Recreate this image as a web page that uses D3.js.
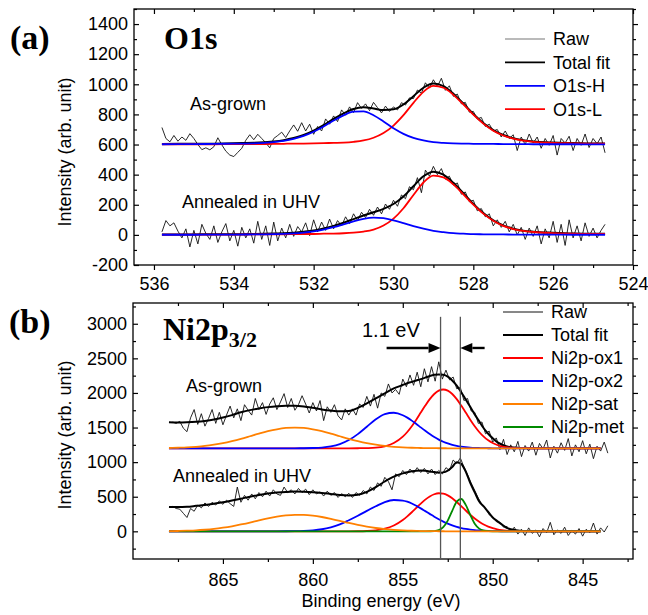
<!DOCTYPE html>
<html lang="en">
<head>
<meta charset="UTF-8">
<title>XPS O1s / Ni2p3/2</title>
<script src="https://d3js.org/d3.v7.min.js"></script>
<style>
  body { margin: 0; background: #fff; }
  svg { font-family: "Liberation Sans", Arial, sans-serif; }
  .tick text { font-size: 18px; fill: #000; }
  .tick line { stroke: #000; stroke-width: 1.2; }
  .big { font-family: "Liberation Serif", "Times New Roman", serif; font-weight: bold; }
</style>
</head>
<body>
<svg id="chart"></svg>
<script>
// ---------- panel (a) : O1s ----------
const o1sRawE = d3.range(112).map(i => +(535.8 - 0.1 * i).toFixed(1));
const o1sRawAsGrown = [713, 640, 618, 660, 622, 650, 628, 672, 640, 600,
  566, 578, 565, 585, 645, 598, 556, 530, 520, 548,
  575, 628, 665, 632, 668, 640, 612, 578, 640, 660,
  682, 646, 690, 730, 688, 745, 690, 735, 668, 720,
  690, 770, 735, 790, 752, 830, 795, 850, 812, 878,
  840, 870, 825, 880, 845, 810, 855, 820, 850, 830,
  878, 862, 910, 905, 962, 940, 1010, 975, 1030, 985,
  1040, 960, 990, 920, 935, 870, 880, 815, 820, 770,
  780, 720, 735, 690, 700, 650, 690, 640, 665, 560,
  650, 600, 670, 610, 650, 575, 640, 595, 660, 530,
  640, 610, 655, 560, 640, 595, 670, 580, 640, 605,
  650, 545];
const o1sRawAnnealed = [20, 95, 60, 80, 25, -20, 40, -80, 30, -60,
  70, 10, -30, 60, -50, 20, 75, -40, 30, -75,
  50, -20, 40, -55, 90, -30, 60, -70, 85, -40,
  45, -20, 70, -10, 55, 20, 80, -5, 100, 20,
  85, 30, 105, 40, 95, 60, 120, 75, 140, 95,
  150, 115, 170, 130, 185, 140, 205, 170, 230, 190,
  265, 240, 320, 300, 380, 280, 430, 390, 455, 400,
  440, 370, 390, 330, 345, 270, 285, 220, 230, 160,
  175, 120, 140, 60, 100, 50, 90, 20, 70, 0,
  50, -30, 45, -10, 60, -60, 40, -20, 90, -50,
  70, -70, 100, -20, 60, -40, 80, -10, 45, -20,
  30, 70];

const o1sFitE = [535.8, 535, 534.5, 534, 533.5, 533, 532.75, 532.5, 532.25, 532, 531.75, 531.5,
  531.25, 531, 530.75, 530.5, 530.25, 530, 529.75, 529.5, 529.25, 529, 528.75, 528.5,
  528.25, 528, 527.75, 527.5, 527.25, 527, 526.75, 526.5, 526, 525.5, 525, 524.7];
const o1sTotalAsGrown = [604, 605, 606, 609, 611, 620, 629, 643, 663, 692, 729, 770,
  807, 836, 847, 839, 829, 834, 866, 921, 977, 1005, 988, 938,
  872, 803, 743, 696, 663, 642, 629, 620, 613, 610, 607, 607];
const o1sHAsGrown = [602, 603, 604, 606, 608, 616, 624, 637, 657, 685, 720, 759,
  794, 818, 820, 794, 753, 708, 671, 644, 627, 616, 611, 608,
  606, 605, 604, 604, 603, 603, 603, 602, 602, 602, 601, 601];
const o1sLAsGrown = [602, 602, 602, 603, 603, 604, 605, 606, 606, 607, 609, 611,
  613, 618, 627, 645, 676, 726, 795, 877, 950, 989, 977, 930,
  866, 798, 739, 692, 660, 639, 626, 618, 611, 608, 606, 606];
const o1sTotalAnnealed = [2, 3, 4, 4, 6, 9, 11, 15, 21, 29, 43, 60,
  81, 105, 129, 150, 173, 205, 255, 323, 389, 420, 400, 346,
  277, 206, 145, 97, 63, 41, 28, 21, 14, 9, 7, 7];
const o1sHAnnealed = [1, 1, 2, 2, 3, 5, 7, 10, 15, 23, 35, 51,
  70, 90, 107, 115, 111, 97, 78, 58, 41, 27, 18, 11,
  8, 5, 4, 3, 3, 2, 2, 2, 2, 1, 1, 1];
const o1sLAnnealed = [1, 2, 2, 2, 3, 4, 4, 5, 6, 6, 8, 9,
  11, 15, 22, 35, 62, 108, 177, 265, 348, 393, 382, 335,
  269, 201, 141, 94, 60, 39, 26, 19, 12, 8, 6, 6];

const o1sXMajor = [536, 534, 532, 530, 528, 526, 524];
const o1sXMinor = [535, 533, 531, 529, 527, 525];
const o1sYMajor = [-200, 0, 200, 400, 600, 800, 1000, 1200, 1400];
const o1sYMinor = [-100, 100, 300, 500, 700, 900, 1100, 1300, 1500];
const o1sLegend = ["Raw", "Total fit", "O1s-H", "O1s-L"];

// ---------- panel (b) : Ni2p3/2 ----------
const niRawE = d3.range(122).map(i => +(867.8 - 0.2 * i).toFixed(1));
const niRawAsGrown = [1580, 1560, 1590, 1490, 1440, 1640, 1760, 1545, 1700, 1520,
  1630, 1760, 1560, 1720, 1540, 1680, 1810, 1640, 1770, 1600,
  1830, 1750, 1680, 1920, 1760, 1860, 1690, 1840, 1930, 1760,
  1870, 1990, 1790, 1920, 1750, 1830, 1960, 1840, 1710, 1860,
  1740, 1890, 1600, 1800, 1720, 1830, 1670, 1610, 1770, 1680,
  1770, 1680, 1840, 1790, 1950, 1810, 1980, 1780, 2000, 1950,
  2130, 2000, 2050, 1980, 2200, 2090, 2260, 2110, 2300, 2090,
  2350, 2160, 2380, 2170, 2450, 2200, 2330, 2190, 2230, 2060,
  2080, 1890, 1920, 1740, 1720, 1560, 1580, 1410, 1450, 1290,
  1350, 1180, 1330, 1110, 1250, 1150, 1300, 1080, 1240, 1160,
  1290, 1100, 1270, 1190, 1320, 1060, 1230, 1130, 1280, 1170,
  1340, 1090, 1250, 1150, 1310, 1120, 1260, 1050, 1230, 1160,
  1290, 1130];
const niRawAnnealed = [360, 330, 320, 260, 200, 330, 290, 380, 340, 410,
  360, 420, 380, 440, 390, 450, 400, 360, 640, 420,
  520, 450, 540, 470, 560, 500, 580, 510, 600, 540,
  520, 640, 560, 600, 540, 620, 560, 610, 530, 600,
  540, 570, 510, 580, 520, 560, 490, 545, 500, 550,
  490, 560, 520, 590, 540, 640, 590, 700, 650, 780,
  720, 600, 830, 790, 880, 820, 900, 840, 920, 850,
  910, 830, 900, 820, 880, 830, 920, 880, 1030, 980,
  1060, 930, 820, 700, 590, 480, 390, 330, 240, 210,
  140, 130, 60, 70, -10, 60, -40, 30, -60, 50,
  -30, 20, -80, 40, -20, 130, -50, 20, -30, 60,
  -60, 10, -40, 40, -70, 30, -20, 120, -40, 50,
  -10, 80];

const niFitE = [868, 867.5, 867, 866.5, 866, 865.5, 865, 864.5, 864, 863.5, 863, 862.5, 862,
  861.5, 861, 860.5, 860, 859.5, 859, 858.5, 858, 857.5, 857, 856.5, 856, 855.5, 855,
  854.75, 854.5, 854.25, 854, 853.75, 853.5, 853.25, 853, 852.75, 852.5, 852.25, 852,
  851.75, 851.5, 851.25, 851, 850.75, 850.5, 850.25, 850, 849.75, 849.5, 849.25, 849,
  848.5, 848, 847.5, 847, 846, 845, 844];
const niTotalAsGrown = [1575, 1572, 1575, 1582, 1595, 1615, 1645, 1680, 1720, 1752, 1776, 1795, 1808,
  1815, 1815, 1805, 1785, 1762, 1745, 1735, 1738, 1785, 1850, 1920, 1995, 2065, 2115,
  2140, 2160, 2180, 2200, 2222, 2245, 2262, 2268, 2262, 2235, 2180, 2105,
  2010, 1905, 1800, 1690, 1590, 1490, 1410, 1345, 1290, 1255, 1230, 1215,
  1205, 1201, 1200, 1200, 1200, 1200, 1200];
const niOx1AsGrown = [1200, 1200, 1200, 1200, 1200, 1200, 1200, 1200, 1200, 1200, 1200, 1200, 1200,
  1200, 1200, 1200, 1200, 1200, 1200, 1200, 1200, 1201, 1203, 1209, 1229, 1276, 1368,
  1436, 1519, 1614, 1716, 1817, 1910, 1985, 2033, 2050, 2033, 1985, 1910,
  1817, 1716, 1614, 1519, 1436, 1368, 1315, 1276, 1248, 1229, 1217, 1209,
  1203, 1201, 1200, 1200, 1200, 1200, 1200];
const niOx2AsGrown = [1200, 1200, 1200, 1200, 1200, 1200, 1200, 1200, 1200, 1200, 1200, 1200, 1200,
  1200, 1200, 1201, 1204, 1211, 1227, 1260, 1319, 1405, 1512, 1619, 1694, 1714, 1678,
  1643, 1600, 1552, 1502, 1453, 1406, 1363, 1326, 1295, 1270, 1250, 1235,
  1224, 1216, 1210, 1206, 1204, 1202, 1201, 1200, 1200, 1200, 1200, 1200,
  1200, 1200, 1200, 1200, 1200, 1200, 1200];
const niSatAsGrown = [1204, 1208, 1213, 1222, 1234, 1252, 1275, 1304, 1337, 1374, 1412, 1447, 1475,
  1494, 1500, 1494, 1475, 1447, 1412, 1374, 1337, 1304, 1275, 1252, 1234, 1222, 1213,
  1210, 1208, 1206, 1204, 1203, 1202, 1202, 1201, 1201, 1200, 1200, 1200,
  1200, 1200, 1200, 1200, 1200, 1200, 1200, 1200, 1200, 1200, 1200, 1200,
  1200, 1200, 1200, 1200, 1200, 1200, 1200];
const niTotalAnnealed = [352, 350, 355, 368, 382, 400, 420, 445, 472, 500, 525, 545, 560,
  570, 574, 572, 566, 555, 540, 525, 518, 528, 570, 640, 720, 790, 838,
  855, 868, 876, 878, 874, 866, 856, 848, 852, 878, 930, 1000,
  975, 865, 700, 565, 430, 360, 280, 200, 148, 100, 55, 30,
  10, 5, 2, 1, 0, 0, 0];
const niOx1Annealed = [0, 0, 0, 0, 0, 0, 0, 0, 0, 0, 0, 0, 0,
  0, 0, 0, 0, 0, 0, 0, 0, 1, 5, 15, 38, 85, 165,
  217, 276, 339, 401, 458, 504, 536, 550, 544, 519, 478, 424,
  364, 301, 240, 185, 137, 98, 68, 45, 29, 18, 11, 6,
  2, 0, 0, 0, 0, 0, 0];
const niOx2Annealed = [0, 0, 0, 0, 0, 0, 0, 0, 0, 0, 0, 0, 0,
  1, 3, 7, 15, 30, 58, 100, 160, 225, 295, 362, 423, 453, 445,
  428, 402, 369, 332, 292, 252, 212, 175, 141, 112, 86, 65,
  48, 35, 25, 17, 12, 8, 5, 3, 2, 1, 0, 0,
  0, 0, 0, 0, 0, 0, 0];
const niSatAnnealed = [3, 5, 9, 14, 23, 35, 52, 73, 99, 127, 158, 187, 212,
  230, 239, 238, 227, 207, 181, 152, 121, 93, 69, 48, 32, 21, 13,
  10, 8, 6, 4, 3, 2, 2, 1, 1, 0, 0, 0,
  0, 0, 0, 0, 0, 0, 0, 0, 0, 0, 0, 0,
  0, 0, 0, 0, 0, 0, 0];
const niMetAnnealed = [0, 0, 0, 0, 0, 0, 0, 0, 0, 0, 0, 0, 0,
  0, 0, 0, 0, 0, 0, 0, 0, 0, 0, 0, 0, 0, 0,
  0, 0, 0, 0, 0, 1, 4, 18, 61, 155, 297, 429,
  467, 383, 237, 110, 39, 10, 2, 0, 0, 0, 0, 0,
  0, 0, 0, 0, 0, 0, 0];

const niXMajor = [865, 860, 855, 850, 845];
const niXMinor = [867.5, 862.5, 857.5, 852.5, 847.5, 842.5];
const niYMajor = [0, 500, 1000, 1500, 2000, 2500, 3000];
const niYMinor = [-250, 250, 750, 1250, 1750, 2250, 2750, 3250];
const niLegend = ["Raw", "Total fit", "Ni2p-ox1", "Ni2p-ox2", "Ni2p-sat", "Ni2p-met"];
const metLines = [852.9, 851.8];   // the two marked peak positions (1.1 eV apart)

const colRaw = "#111", colTot = "#000", colRed = "#ff0000", colBlue = "#0000ff",
      colOrange = "#ff8000", colGreen = "#008a00";

const width = 648, height = 615;
const svg = d3.select("#chart").attr("width", width).attr("height", height);
const fmt = d => String(d);   // plain hyphen for negatives, like the original

function panel(cfg) {
  const x = d3.scaleLinear().domain(cfg.xDomain).range([cfg.left, cfg.right]);
  const y = d3.scaleLinear().domain(cfg.yDomain).range([cfg.bottom, cfg.top]);
  const g = svg.append("g");

  const clipId = "clip-" + cfg.id;
  g.append("clipPath").attr("id", clipId).append("rect")
    .attr("x", cfg.left).attr("y", cfg.top)
    .attr("width", cfg.right - cfg.left).attr("height", cfg.bottom - cfg.top);

  // axes: left/top ticks point in, bottom/right point out
  const ax = (axis, tr) => g.append("g").attr("transform", tr).call(axis)
    .call(s => s.select(".domain").remove());
  ax(d3.axisBottom(x).tickValues(cfg.xMajor).tickSize(5).tickPadding(cfg.xPad).tickFormat(fmt), `translate(0,${cfg.bottom})`);
  ax(d3.axisBottom(x).tickValues(cfg.xMinor).tickSize(3).tickFormat(""), `translate(0,${cfg.bottom})`);
  ax(d3.axisTop(x).tickValues(cfg.xMajor).tickSize(-5).tickFormat(""), `translate(0,${cfg.top})`);
  ax(d3.axisTop(x).tickValues(cfg.xMinor).tickSize(-3).tickFormat(""), `translate(0,${cfg.top})`);
  ax(d3.axisLeft(y).tickValues(cfg.yMajor).tickSize(-5).tickPadding(6).tickFormat(fmt), `translate(${cfg.left},0)`);
  ax(d3.axisLeft(y).tickValues(cfg.yMinor).tickSize(-3).tickFormat(""), `translate(${cfg.left},0)`);
  ax(d3.axisRight(y).tickValues(cfg.yMajor).tickSize(5).tickFormat(""), `translate(${cfg.right},0)`);
  ax(d3.axisRight(y).tickValues(cfg.yMinor).tickSize(3).tickFormat(""), `translate(${cfg.right},0)`);

  g.append("rect").attr("x", cfg.left).attr("y", cfg.top)
    .attr("width", cfg.right - cfg.left).attr("height", cfg.bottom - cfg.top)
    .attr("fill", "none").attr("stroke", "#000").attr("stroke-width", 1.3);

  const plot = g.append("g").attr("clip-path", `url(#${clipId})`);
  const rawLine = d3.line().x(d => x(d[0])).y(d => y(d[1]));
  const fitLine = d3.line().x(d => x(d[0])).y(d => y(d[1])).curve(d3.curveMonotoneX);

  cfg.raw.forEach(vals => plot.append("path")
    .attr("d", rawLine(d3.zip(cfg.rawE, vals)))
    .attr("fill", "none").attr("stroke", colRaw).attr("stroke-width", 0.9));
  cfg.fits.forEach(f => plot.append("path")
    .attr("d", fitLine(d3.zip(cfg.fitE, f.v)))
    .attr("fill", "none").attr("stroke", f.c).attr("stroke-width", f.w || 1.8));

  return { x, y, g };
}

// ---------- draw (a) ----------
const pa = panel({
  id: "a", left: 134, right: 633, top: 9, bottom: 265,
  xDomain: [536.5, 524], yDomain: [-200, 1500], xPad: 7,
  xMajor: o1sXMajor, xMinor: o1sXMinor, yMajor: o1sYMajor, yMinor: o1sYMinor,
  rawE: o1sRawE, raw: [o1sRawAsGrown, o1sRawAnnealed], fitE: o1sFitE,
  fits: [
    { v: o1sTotalAsGrown, c: colTot, w: 2 }, { v: o1sLAsGrown, c: colRed }, { v: o1sHAsGrown, c: colBlue },
    { v: o1sTotalAnnealed, c: colTot, w: 2 }, { v: o1sLAnnealed, c: colRed }, { v: o1sHAnnealed, c: colBlue }
  ]
});

// ---------- draw (b) ----------
const pb = panel({
  id: "b", left: 133, right: 633, top: 303, bottom: 559,
  xDomain: [870, 842.2], yDomain: [-400, 3300], xPad: 9,
  xMajor: niXMajor, xMinor: niXMinor, yMajor: niYMajor, yMinor: niYMinor,
  rawE: niRawE, raw: [niRawAsGrown, niRawAnnealed], fitE: niFitE,
  fits: [
    { v: niTotalAsGrown, c: colTot, w: 2 }, { v: niOx1AsGrown, c: colRed }, { v: niOx2AsGrown, c: colBlue },
    { v: niSatAsGrown, c: colOrange },
    { v: niTotalAnnealed, c: colTot, w: 2 }, { v: niOx1Annealed, c: colRed }, { v: niOx2Annealed, c: colBlue },
    { v: niMetAnnealed, c: colGreen }, { v: niSatAnnealed, c: colOrange }
  ]
});

// vertical marker lines and the 1.1 eV arrows
metLines.forEach(e => pb.g.append("line")
  .attr("x1", pb.x(e)).attr("x2", pb.x(e))
  .attr("y1", pb.y(3100)).attr("y2", pb.y(-390))
  .attr("stroke", "#555").attr("stroke-width", 1.3));

function arrow(fromE, toE, v) {
  const x0 = pb.x(fromE), x1 = pb.x(toE), yy = pb.y(v);
  const dir = Math.sign(x1 - x0), head = 12;
  pb.g.append("line").attr("x1", x0).attr("x2", x1 - dir * head)
    .attr("y1", yy).attr("y2", yy).attr("stroke", "#000").attr("stroke-width", 2.4);
  pb.g.append("path")
    .attr("d", `M${x1},${yy}L${x1 - dir * head},${yy - 5}L${x1 - dir * head},${yy + 5}Z`)
    .attr("fill", "#000");
}
arrow(855.9, metLines[0], 2650);
arrow(850.45, metLines[1], 2650);
svg.append("text").attr("x", 362).attr("y", 337).attr("font-size", 20).text("1.1 eV");

// ---------- legends ----------
function legend(names, colors, widths, x0, y0, step) {
  names.forEach((n, i) => {
    const yy = y0 + i * step;
    svg.append("line").attr("x1", x0).attr("x2", x0 + 40).attr("y1", yy).attr("y2", yy)
      .attr("stroke", colors[i]).attr("stroke-width", widths[i]);
    svg.append("text").attr("x", x0 + 48).attr("y", yy).attr("dy", "0.35em")
      .attr("font-size", 18).text(n);
  });
}
legend(o1sLegend, ["#777", colTot, colBlue, colRed], [1.2, 1.8, 1.8, 1.8], 505, 39, 23.4);
legend(niLegend, [colRaw, colTot, colRed, colBlue, colOrange, colGreen], [1, 1.8, 1.8, 1.8, 1.8, 1.8], 503, 312, 23);

// ---------- labels ----------
const label = (x, y, t, size) => svg.append("text").attr("x", x).attr("y", y)
  .attr("font-size", size || 18).text(t);
label(190, 110, "As-grown");
label(182, 208, "Annealed in UHV");
label(186, 392, "As-grown");
label(173, 482, "Annealed in UHV");

svg.append("text").attr("class", "big").attr("x", 10).attr("y", 49).attr("font-size", 34).text("(a)");
svg.append("text").attr("class", "big").attr("x", 164).attr("y", 49).attr("font-size", 32).text("O1s");
svg.append("text").attr("class", "big").attr("x", 9).attr("y", 333).attr("font-size", 34).text("(b)");
const ni = svg.append("text").attr("class", "big").attr("x", 163).attr("y", 340).attr("font-size", 32);
ni.append("tspan").text("Ni2p");
ni.append("tspan").attr("font-size", 22).attr("dy", 7).text("3/2");

[152, 435].forEach(cy => svg.append("text")
  .attr("transform", `translate(71,${cy}) rotate(-90)`)
  .attr("text-anchor", "middle").attr("font-size", 18).text("Intensity (arb. unit)"));
svg.append("text").attr("x", 381).attr("y", 607).attr("text-anchor", "middle")
  .attr("font-size", 18).text("Binding energy (eV)");
</script>
</body>
</html>
